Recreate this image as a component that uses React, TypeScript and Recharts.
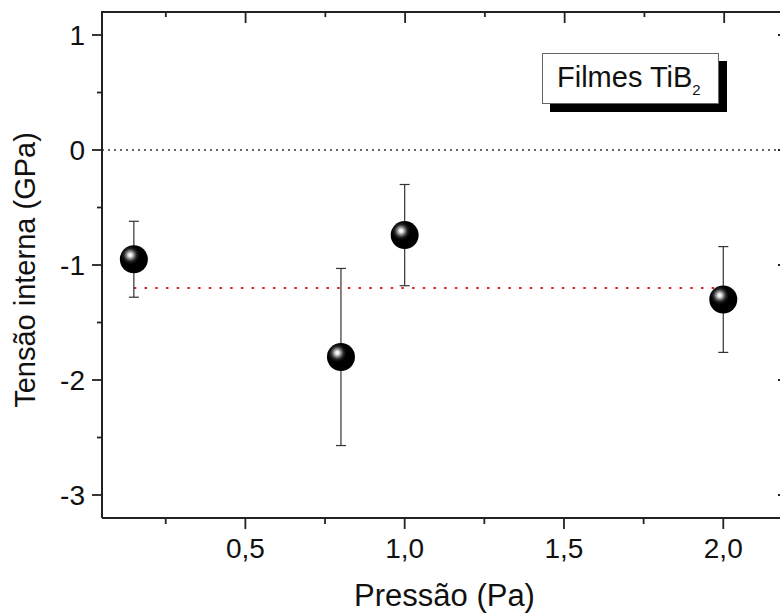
import { ScatterChart, Scatter, XAxis, YAxis, ErrorBar, ReferenceLine, Label } from 'recharts';

const pressures = [0.15, 0.8, 1.0, 2.0];
const stresses = [-0.95, -1.8, -0.74, -1.3];
const stressErrors = [0.33, 0.77, 0.44, 0.46];
const meanStress = -1.2;
const meanFrom = 0.15;
const meanTo = 2.0;

const xTicks = [0.25, 0.5, 0.75, 1.0, 1.25, 1.5, 1.75, 2.0];
const yTicks = [-3, -2.5, -2, -1.5, -1, -0.5, 0, 0.5, 1];
const xDomain = [0.05, 2.2];
const yDomain = [-3.2, 1.2];

const FONT = '"Liberation Sans", Arial, sans-serif';
const AXIS = '#222';
const PLOT_TOP = 12;
const PLOT_LEFT = 102;
const PLOT_RIGHT = 788;

const data = pressures.map((p, i) => ({ x: p, y: stresses[i], err: stressErrors[i] }));

const isMajorX = (v: number) => Math.abs(v * 2 - Math.round(v * 2)) < 1e-6;
const isMajorY = (v: number) => Math.abs(v - Math.round(v)) < 1e-6;

// same mapping as the x axis, only used for the inward ticks of the top frame edge
const frameX = (v: number) => PLOT_LEFT + ((v - xDomain[0]) / (xDomain[1] - xDomain[0])) * (PLOT_RIGHT - PLOT_LEFT);

function BottomTick({ x, y, payload }: any) {
  const major = isMajorX(payload.value);
  return (
    <g>
      <line x1={x} x2={x} y1={y} y2={y + (major ? 11 : 6)} stroke={AXIS} strokeWidth={1.8} />
      {major && (
        <text x={x} y={y + 40} textAnchor="middle" fontSize={28} fontFamily={FONT} fill="#111">
          {payload.value.toFixed(1).replace('.', ',')}
        </text>
      )}
    </g>
  );
}

function LeftTick({ x, y, payload }: any) {
  const major = isMajorY(payload.value);
  return (
    <g>
      <line x1={x - (major ? 10 : 5)} x2={x} y1={y} y2={y} stroke={AXIS} strokeWidth={1.8} />
      {major && (
        <text x={x - 17} y={y} dy="0.36em" textAnchor="end" fontSize={28} fontFamily={FONT} fill="#111">
          {String(payload.value)}
        </text>
      )}
    </g>
  );
}

function RightTick({ x, y, payload }: any) {
  const major = isMajorY(payload.value);
  return <line x1={x - (major ? 9 : 5)} x2={x} y1={y} y2={y} stroke={AXIS} strokeWidth={1.8} />;
}

function Sphere({ cx, cy, index }: any) {
  const id = `sphere-${index}`;
  return (
    <g>
      <defs>
        <radialGradient id={id} cx="0.37" cy="0.35" fx="0.37" fy="0.35" r="0.55">
          <stop offset="0" stopColor="#ffffff" />
          <stop offset="0.1" stopColor="#eeeeee" />
          <stop offset="0.25" stopColor="#8a8a8a" />
          <stop offset="0.42" stopColor="#222" />
          <stop offset="0.6" stopColor="#000" />
          <stop offset="1" stopColor="#000" />
        </radialGradient>
      </defs>
      <circle cx={cx} cy={cy} r={14} fill={`url(#${id})`} />
    </g>
  );
}

const Nothing = () => <g />;

export default function App() {
  return (
    <div style={{ position: 'absolute', left: 0, top: 0, width: 780, height: 615, background: '#fff', overflow: 'hidden' }}>
      <ScatterChart width={780} height={615} margin={{ top: PLOT_TOP, right: -8, bottom: 0, left: 0 }}>
        <XAxis
          type="number"
          dataKey="x"
          domain={xDomain}
          allowDataOverflow
          ticks={xTicks}
          interval={0}
          height={97}
          tickSize={0}
          tickMargin={0}
          tick={<BottomTick />}
          axisLine={{ stroke: AXIS, strokeWidth: 2 }}
        >
          <Label value="Pressão (Pa)" position="insideBottom" offset={9} fontSize={31} fontFamily={FONT} fill="#111" />
        </XAxis>
        <YAxis
          type="number"
          dataKey="y"
          domain={yDomain}
          allowDataOverflow
          ticks={yTicks}
          interval={0}
          width={PLOT_LEFT}
          tickSize={0}
          tickMargin={0}
          tick={<LeftTick />}
          axisLine={{ stroke: AXIS, strokeWidth: 2 }}
          label={{
            content: () => (
              <text x={35} y={270} transform="rotate(-90, 35, 270)" textAnchor="middle" fontSize={29} fontFamily={FONT} fill="#111">
                Tensão interna (GPa)
              </text>
            ),
          }}
        />
        <YAxis
          yAxisId="right"
          orientation="right"
          type="number"
          dataKey="y"
          domain={yDomain}
          allowDataOverflow
          ticks={yTicks}
          interval={0}
          width={1}
          tickSize={0}
          tickMargin={0}
          tick={<RightTick />}
          axisLine={{ stroke: AXIS, strokeWidth: 2 }}
        />
        <ReferenceLine y={0} stroke="#333" strokeWidth={1.5} strokeDasharray="2 4" />
        <ReferenceLine
          segment={[{ x: meanFrom, y: meanStress }, { x: meanTo, y: meanStress }]}
          stroke="#e02424"
          strokeWidth={2}
          strokeDasharray="2.5 8.2"
        />
        <Scatter data={data} yAxisId="right" shape={<Nothing />} isAnimationActive={false} />
        <Scatter data={data} shape={<Sphere />} isAnimationActive={false}>
          <ErrorBar dataKey="err" direction="y" width={5} stroke="#333" strokeWidth={1.2} isAnimationActive={false} />
        </Scatter>
      </ScatterChart>
      {/* top edge of the frame with its inward ticks */}
      <svg
        width={780}
        height={30}
        style={{ position: 'absolute', left: 0, top: 0, pointerEvents: 'none' }}
      >
        <line x1={PLOT_LEFT - 1} x2={PLOT_RIGHT} y1={PLOT_TOP} y2={PLOT_TOP} stroke={AXIS} strokeWidth={2} />
        {xTicks.map((t) => (
          <line
            key={t}
            x1={frameX(t)}
            x2={frameX(t)}
            y1={PLOT_TOP}
            y2={PLOT_TOP + (isMajorX(t) ? 11 : 5)}
            stroke={AXIS}
            strokeWidth={1.8}
          />
        ))}
      </svg>
      <div
        style={{
          position: 'absolute',
          left: 542,
          top: 53,
          width: 175,
          height: 49,
          border: '1px solid #666',
          background: '#fff',
          boxShadow: '8px 8px 0 #000',
          fontFamily: FONT,
          fontSize: 29,
          color: '#111',
          boxSizing: 'content-box',
        }}
      >
        <span style={{ position: 'absolute', left: 14, top: 7, whiteSpace: 'nowrap' }}>
          Filmes TiB<sub style={{ fontSize: 15, verticalAlign: 'baseline', position: 'relative', top: 8 }}>2</sub>
        </span>
      </div>
    </div>
  );
}
